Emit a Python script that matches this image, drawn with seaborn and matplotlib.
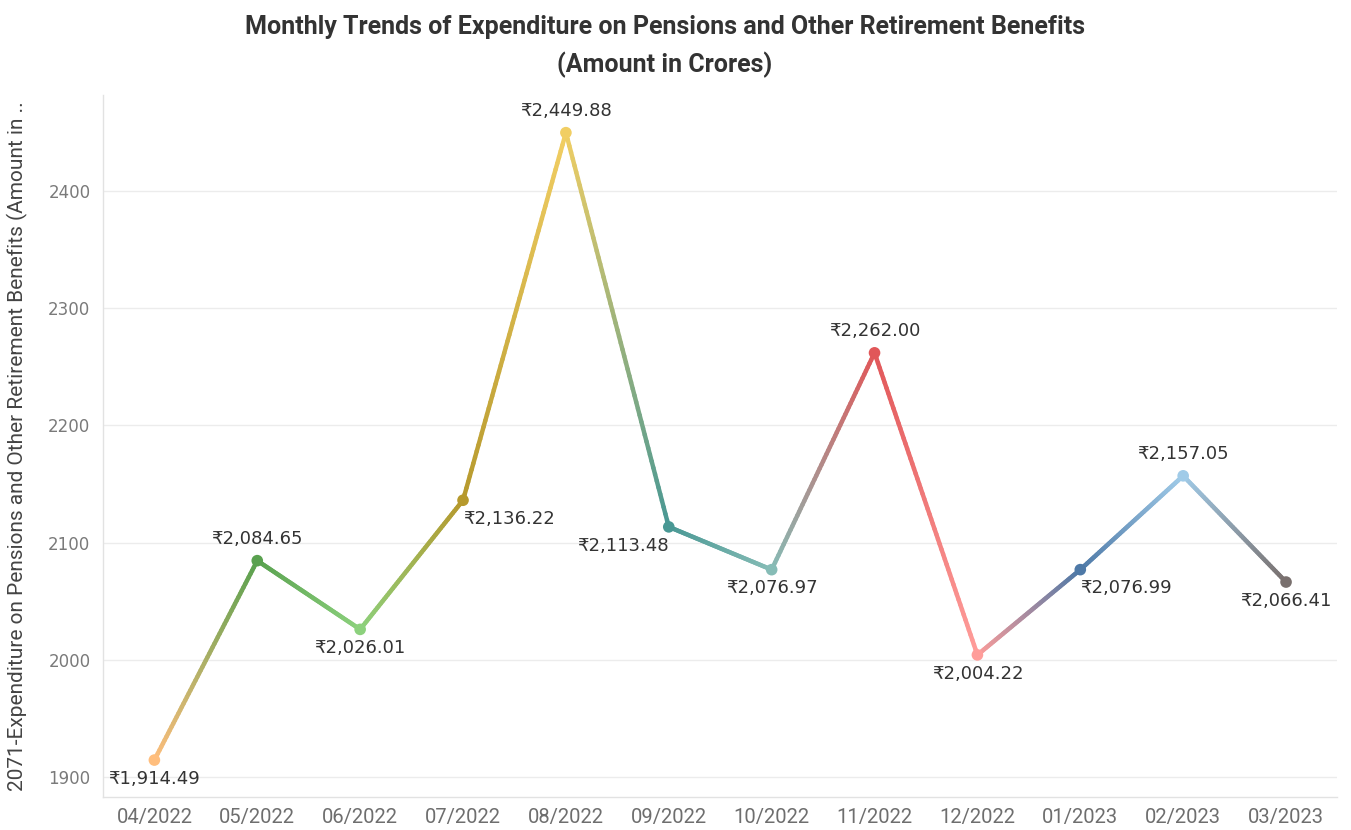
import numpy as np
import pandas as pd
import matplotlib
matplotlib.use('Agg')
import matplotlib.pyplot as plt
import seaborn as sns
from matplotlib.collections import LineCollection
from matplotlib.colors import to_rgb

# data
months = ['04/2022', '05/2022', '06/2022', '07/2022', '08/2022', '09/2022',
          '10/2022', '11/2022', '12/2022', '01/2023', '02/2023', '03/2023']
amounts = [1914.49, 2084.65, 2026.01, 2136.22, 2449.88, 2113.48,
           2076.97, 2262.00, 2004.22, 2076.99, 2157.05, 2066.41]
point_colors = ['#FFBE7D', '#59A14F', '#8CD17D', '#B6992D', '#F1CE63', '#499894',
                '#86BCB6', '#E15759', '#FF9D9A', '#4E79A7', '#A0CBE8', '#79706E']
# where each value label sits relative to its point
label_pos = ['below', 'above', 'below', 'below-right', 'above', 'below-left',
             'below', 'above', 'below', 'below-right', 'above', 'below']

df = pd.DataFrame({'month': months, 'amount': amounts})

sns.set_style('white')
plt.rcParams['font.family'] = ['DejaVu Sans']
narrow = ['Roboto', 'DejaVu Sans']

fig = plt.figure(figsize=(13.51, 8.30), dpi=100)
ax = fig.add_axes([0.0762, 0.0398, 0.9138, 0.8457])

# gradient line between consecutive points
xs = np.arange(len(months))
segs, cols = [], []
n = 60
for i in range(len(months) - 1):
    c0 = np.array(to_rgb(point_colors[i]))
    c1 = np.array(to_rgb(point_colors[i + 1]))
    t = np.linspace(0, 1, n + 1)
    px = xs[i] + t * (xs[i + 1] - xs[i])
    py = amounts[i] + t * (amounts[i + 1] - amounts[i])
    for k in range(n):
        segs.append([(px[k], py[k]), (px[k + 1], py[k + 1])])
        cols.append(c0 + (c1 - c0) * (t[k] + t[k + 1]) / 2)
lc = LineCollection(segs, colors=cols, linewidths=3.2, capstyle='round', zorder=3)
ax.add_collection(lc)

sns.scatterplot(data=df, x='month', y='amount', hue='month', palette=point_colors,
                legend=False, s=70, edgecolor='none', zorder=4, ax=ax)

for i, (v, pos) in enumerate(zip(amounts, label_pos)):
    txt = '\u20b9{:,.2f}'.format(v)
    if pos == 'above':
        ax.annotate(txt, (i, v), xytext=(0, 9), textcoords='offset points',
                    ha='center', va='bottom', fontsize=13, color='#333333')
    elif pos == 'below':
        ax.annotate(txt, (i, v), xytext=(0, -7), textcoords='offset points',
                    ha='center', va='top', fontsize=13, color='#333333')
    elif pos == 'below-right':
        ax.annotate(txt, (i, v), xytext=(0, -7), textcoords='offset points',
                    ha='left', va='top', fontsize=13, color='#333333')
    else:
        ax.annotate(txt, (i, v), xytext=(0, -7), textcoords='offset points',
                    ha='right', va='top', fontsize=13, color='#333333')

ax.set_xlim(-0.5, len(months) - 0.5)
ax.set_ylim(1883, 2482)
ax.set_yticks([1900, 2000, 2100, 2200, 2300, 2400])
ax.yaxis.grid(True, color='#ececec', lw=1)
ax.xaxis.grid(False)
ax.set_axisbelow(True)

for s in ['top', 'right']:
    ax.spines[s].set_visible(False)
for s in ['left', 'bottom']:
    ax.spines[s].set_color('#e2e2e2')
    ax.spines[s].set_linewidth(1)

ax.set_xticks(xs)
ax.set_xticks(np.arange(-0.5, len(months), 1), minor=True)
ax.tick_params(axis='x', which='major', length=0, pad=8, labelsize=14.5, labelcolor='#6e6e6e')
ax.tick_params(axis='x', which='minor', length=12, color='#e2e2e2', width=1)
ax.tick_params(axis='y', length=5, color='#e2e2e2', labelsize=12, labelcolor='#7a7a7a', pad=4)
for lab in ax.get_xticklabels():
    lab.set_family(narrow)

ax.set_xlabel('')
ax.set_ylabel('2071-Expenditure on Pensions and Other Retirement Benefits (Amount in ..',
              fontsize=15, color='#444444', family=narrow, labelpad=8)
ax.yaxis.set_label_coords(-0.061, 0.5)

fig.text(0.492, 0.982, 'Monthly Trends of Expenditure on Pensions and Other Retirement Benefits\n(Amount in Crores)',
         ha='center', va='top', fontsize=18, fontweight='bold', color='#333333',
         family=narrow, linespacing=1.6)

fig.savefig('out.png', dpi=100)
